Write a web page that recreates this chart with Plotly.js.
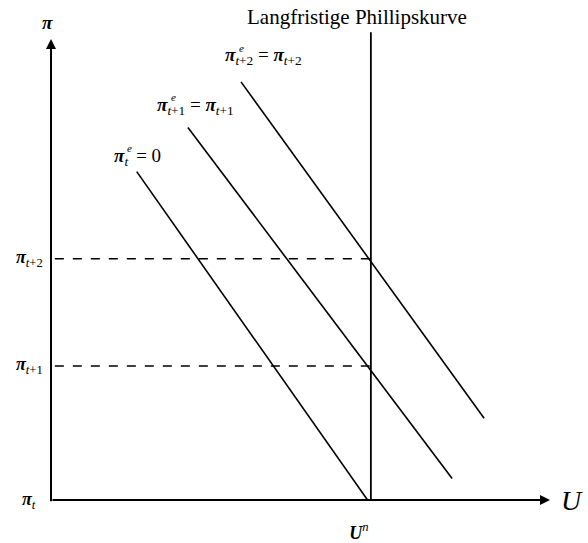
<!DOCTYPE html>
<html>
<head>
<meta charset="utf-8">
<script src="https://cdn.plot.ly/plotly-3.0.1.min.js"></script>
<style>
  body { margin: 0; background: #fff; }
  #chart { width: 588px; height: 543px; }
</style>
</head>
<body>
<div id="chart"></div>
<script>
// Kurzfristige Phillipskurven (Start- und Endpunkt je Kurve)
var curve0U = [1.34, 5.11];
var curve0Pi = [2.45, -0.11];
var curve1U = [2.14, 6.27];
var curve1Pi = [2.78, 0.16];
var curve2U = [2.97, 6.77];
var curve2Pi = [3.12, 0.61];

// Langfristige Phillipskurve bei U^n
var naturalU = 5;
var lrpcPi = [0, 3.49];

// Inflationsniveaus und ihre Beschriftung
var piLevels = [0, 1, 1.8];
var piLabels = ['π<sub><i>t</i></sub>', 'π<sub><i>t</i>+1</sub>', 'π<sub><i>t</i>+2</sub>'];

// Beschriftung der Kurven
var curveNames = [
    'π<sub><i>t</i>&nbsp;</sub> = 0',
    'π<sub><i>t</i>+1</sub> = π<sub><i>t</i>+1</sub>',
    'π<sub><i>t</i>+2</sub> = π<sub><i>t</i>+2</sub>'
];
var labelU = [0.95, 1.63, 2.69];
var labelPi = [2.56, 2.94, 3.31];

var serif = 'Liberation Serif, Times New Roman, serif';
var black = '#000';

function bold(s) {
    return s.replace(/π/g, '<b><i>π</i></b>');
}

var lineStyle = { color: black, width: 1.6 };

var data = [
    { x: curve0U, y: curve0Pi, mode: 'lines', line: lineStyle },
    { x: curve1U, y: curve1Pi, mode: 'lines', line: lineStyle },
    { x: curve2U, y: curve2Pi, mode: 'lines', line: lineStyle },
    { x: [naturalU, naturalU], y: lrpcPi, mode: 'lines', line: { color: black, width: 1.8 } },
    // gestrichelte Hilfslinien
    { x: [0.06, naturalU], y: [piLevels[1], piLevels[1]], mode: 'lines', line: { color: black, width: 1.5, dash: 'dash' } },
    { x: [0.06, naturalU], y: [piLevels[2], piLevels[2]], mode: 'lines', line: { color: black, width: 1.5, dash: 'dash' } }
];

var annotations = [
    // Achsen mit Pfeilen
    { x: 0, y: 3.44, ax: 0, ay: -0.02, xref: 'x', yref: 'y', axref: 'x', ayref: 'y',
      text: '', showarrow: true, arrowhead: 2, arrowsize: 1, arrowwidth: 2, arrowcolor: black },
    { x: 7.8, y: 0, ax: 0, ay: 0, xref: 'x', yref: 'y', axref: 'x', ayref: 'y',
      text: '', showarrow: true, arrowhead: 2, arrowsize: 1, arrowwidth: 2, arrowcolor: black },
    // Achsentitel (ausserhalb des Achsenbereichs, daher paper)
    { x: -0.008, y: 1.017, xref: 'paper', yref: 'paper', xanchor: 'center', yanchor: 'middle',
      text: '<b><i>π</i></b>', showarrow: false,
      font: { family: serif, size: 19, color: black } },
    { x: 1.018, y: 0, xref: 'paper', yref: 'paper', xanchor: 'left', yanchor: 'middle',
      text: '<i>U</i>', showarrow: false,
      font: { family: serif, size: 28, color: black } },
    { x: 0.613, y: 1.028, xref: 'paper', yref: 'paper', xanchor: 'center', yanchor: 'middle',
      text: 'Langfristige Phillipskurve', showarrow: false,
      font: { family: serif, size: 21, color: black } }
];

// Beschriftung der Inflationsniveaus links der Achse, zentriert
for (var k = 0; k < piLevels.length; k++) {
    annotations.push({
        x: -0.044, y: piLevels[k], xref: 'paper', yref: 'y', xanchor: 'center', yanchor: 'middle',
        text: bold(piLabels[k]), showarrow: false,
        font: { family: serif, size: 18, color: black }
    });
}

// Kurvenbeschriftungen mit hochgestelltem e
for (var i = 0; i < curveNames.length; i++) {
    annotations.push({
        x: labelU[i], y: labelPi[i], xref: 'x', yref: 'y', xanchor: 'left', yanchor: 'middle',
        text: bold(curveNames[i]), showarrow: false,
        font: { family: serif, size: 19, color: black }
    });
    annotations.push({
        x: labelU[i] + 0.21, y: labelPi[i] + 0.065, xref: 'x', yref: 'y', xanchor: 'left', yanchor: 'middle',
        text: '<i>e</i>', showarrow: false,
        font: { family: serif, size: 11, color: black }
    });
}

var layout = {
    width: 588,
    height: 543,
    margin: { l: 51, r: 38, t: 30, b: 43 },
    paper_bgcolor: '#fff',
    plot_bgcolor: '#fff',
    showlegend: false,
    xaxis: {
        range: [0, 7.8],
        showgrid: false, zeroline: false, showline: false, ticks: '',
        tickvals: [naturalU],
        ticktext: ['<b><i>U</i></b><sup><i>n</i></sup>'],
        tickfont: { family: serif, size: 18, color: black },
        ticklabelstandoff: 20,
        ticklabelshift: -12,
        fixedrange: true
    },
    yaxis: {
        range: [0, 3.507],
        showgrid: false, zeroline: false, showline: false,
        showticklabels: false,
        fixedrange: true
    },
    annotations: annotations
};

Plotly.newPlot('chart', data, layout, { displayModeBar: false, staticPlot: true });
</script>
</body>
</html>
